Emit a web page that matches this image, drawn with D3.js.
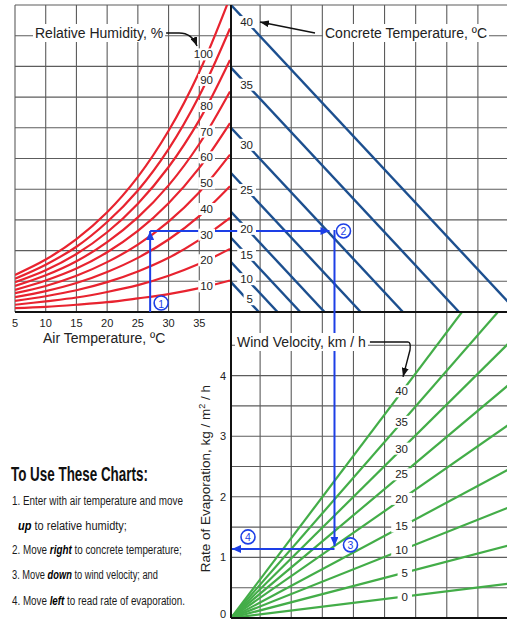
<!DOCTYPE html>
<html><head><meta charset="utf-8">
<script src="https://cdn.jsdelivr.net/npm/d3@7"></script>
<style>
body{margin:0;background:#fff}
svg{display:block}
text{font-family:"Liberation Sans",Arial,Helvetica,sans-serif}
.narrow{font-family:"Liberation Sans Narrow","Arial Narrow","Liberation Sans",sans-serif}
</style>
</head><body>
<script>
// ---------------- data ----------------
const airTemps = [5, 10, 15, 20, 25, 30, 35, 40];          // °C
const airTempTicks = [5, 10, 15, 20, 25, 30, 35];
const rhLevels = [100, 90, 80, 70, 60, 50, 40, 30, 20, 10];  // %
// vapour pressure (kPa) of each relative-humidity curve at airTemps
const vaporByRH = [
  [0.87, 1.23, 1.71, 2.34, 3.17, 4.25, 5.63, 7.38],
  [0.78, 1.11, 1.53, 2.11, 2.85, 3.82, 5.07, 6.65],
  [0.70, 0.98, 1.36, 1.87, 2.54, 3.40, 4.50, 5.91],
  [0.61, 0.86, 1.19, 1.64, 2.22, 2.97, 3.94, 5.17],
  [0.52, 0.74, 1.02, 1.40, 1.90, 2.55, 3.38, 4.43],
  [0.44, 0.61, 0.85, 1.17, 1.58, 2.12, 2.81, 3.69],
  [0.35, 0.49, 0.68, 0.94, 1.27, 1.70, 2.25, 2.95],
  [0.26, 0.37, 0.51, 0.70, 0.95, 1.27, 1.69, 2.21],
  [0.17, 0.25, 0.34, 0.47, 0.63, 0.85, 1.13, 1.48],
  [0.09, 0.12, 0.17, 0.23, 0.32, 0.42, 0.56, 0.74]
];
const concreteTemps = [40, 35, 30, 25, 20, 15, 10, 5];       // °C
const concreteVapor = [7.2, 5.73, 4.32, 3.26, 2.35, 1.74, 1.17, 0.70]; // kPa
const windSpeeds = [40, 35, 30, 25, 20, 15, 10, 5, 0];        // km/h
const evapAtDiff7 = [6.09, 5.27, 4.55, 3.86, 3.20, 2.46, 1.83, 1.20, 0.57]; // kg/m²/h at 7 kPa
const evapTicks = [0, 1, 2, 3, 4];
const exampleAirTemp = 27, exampleVapor = 1.90, exampleDiff = 2.55, exampleEvap = 1.14;
const instructions = [
  ["1. Enter with air temperature and move"],
  ["", "up", " to relative humidty;"],
  ["2. Move ", "right", " to concrete temperature;"],
  ["3. Move ", "down", " to wind velocity; and"],
  ["4. Move ", "left", " to read rate of evaporation."]
];

// ---------------- layout ----------------
const W = 507, H = 622;
const L = 15, T = 5, MID = 312, DIV = 231, B = 618, R = 512;
const RED = "#e8232f", NAVY = "#1c4f8f", GREEN = "#43ad48", PATH = "#1d3fe6", GRID = "#5c5c5c";

const xT = d3.scaleLinear().domain([5, 40]).range([L, 230]);
const yV = d3.scaleLinear().domain([0, 7.2]).range([MID, T]);
const xD = d3.scaleLinear().domain([0, 7]).range([DIV, DIV + 7 * 39.8]);
const yE = d3.scaleLinear().domain([0, 5]).range([B, 315]);
const gridCol = d3.scaleLinear().domain([0, 9]).range([229, 509]);

const svg = d3.select("body").append("svg").attr("width", W).attr("height", H);
const defs = svg.append("defs");
function clip(id, x, y, w, h) {
  defs.append("clipPath").attr("id", id).append("rect").attr("x", x).attr("y", y).attr("width", w).attr("height", h);
}
clip("cTL", L, T, DIV - L, MID - T);
clip("cTR", DIV, T, R - DIV, MID - T);
clip("cB", DIV, MID, R - DIV, B - MID);
function marker(id, color, len, wid) {
  defs.append("marker").attr("id", id).attr("markerUnits", "userSpaceOnUse")
    .attr("viewBox", `0 ${-wid / 2} ${len} ${wid}`).attr("refX", len).attr("refY", 0)
    .attr("markerWidth", len).attr("markerHeight", wid).attr("orient", "auto")
    .append("path").attr("d", `M0,${-wid / 2}L${len},0L0,${wid / 2}Z`).attr("fill", color);
}
marker("aBlue", PATH, 9, 8);
marker("aBlack", "#111", 9, 7);

// ---------------- grid ----------------
const grid = svg.append("g").attr("stroke", GRID).attr("stroke-width", 1.1);
airTemps.slice(1, -1).forEach(t => grid.append("line").attr("x1", xT(t)).attr("x2", xT(t)).attr("y1", T).attr("y2", MID));
d3.range(1, 10).forEach(k => grid.append("line").attr("x1", L).attr("x2", W).attr("y1", yV(k * 0.72)).attr("y2", yV(k * 0.72)));
d3.range(1, 9).forEach(k => grid.append("line").attr("x1", gridCol(k)).attr("x2", gridCol(k)).attr("y1", T).attr("y2", B));
d3.range(0.5, 4.6, 0.5).forEach(e => grid.append("line").attr("x1", DIV).attr("x2", W).attr("y1", yE(e)).attr("y2", yE(e)));
grid.append("line").attr("x1", L).attr("x2", W).attr("y1", T).attr("y2", T);
grid.append("line").attr("x1", L).attr("x2", L).attr("y1", T).attr("y2", MID);

// ---------------- relative humidity curves ----------------
const gRed = svg.append("g").attr("clip-path", "url(#cTL)");
const lineRH = d3.line().x((d, i) => xT(airTemps[i])).y(d => yV(d)).curve(d3.curveCatmullRom);
const redPaths = vaporByRH.map(vals =>
  gRed.append("path").attr("d", lineRH(vals)).attr("fill", "none").attr("stroke", RED).attr("stroke-width", 2.2).node());

// ---------------- concrete temperature lines ----------------
const gBlue = svg.append("g").attr("clip-path", "url(#cTR)");
concreteVapor.forEach(v => gBlue.append("line")
  .attr("x1", xD(0)).attr("y1", yV(v)).attr("x2", xD(v)).attr("y2", yV(0))
  .attr("stroke", NAVY).attr("stroke-width", 2.4));

// ---------------- wind velocity lines ----------------
const gGreen = svg.append("g").attr("clip-path", "url(#cB)");
evapAtDiff7.forEach(e => gGreen.append("line")
  .attr("x1", xD(0)).attr("y1", yE(0)).attr("x2", xD(7)).attr("y2", yE(e))
  .attr("stroke", GREEN).attr("stroke-width", 2.2));

// ---------------- frame ----------------
const frame = svg.append("g").attr("stroke", "#111").attr("stroke-width", 2);
frame.append("line").attr("x1", L).attr("x2", W).attr("y1", MID).attr("y2", MID);
frame.append("line").attr("x1", DIV).attr("x2", DIV).attr("y1", T).attr("y2", B);
frame.append("line").attr("x1", DIV).attr("x2", W).attr("y1", B).attr("y2", B);

// ---------------- example path ----------------
const gPath = svg.append("g").attr("stroke", PATH).attr("stroke-width", 2).attr("fill", "none");
gPath.append("line").attr("x1", xT(exampleAirTemp)).attr("x2", xT(exampleAirTemp))
  .attr("y1", MID).attr("y2", yV(exampleVapor)).attr("marker-end", "url(#aBlue)");
gPath.append("path").attr("d", `M${xT(exampleAirTemp)},${yV(exampleVapor)}H${xD(exampleDiff) - 3}`).attr("marker-end", "url(#aBlue)");
gPath.append("line").attr("x1", xD(exampleDiff) + 2).attr("x2", xD(exampleDiff) + 2)
  .attr("y1", yV(exampleVapor) - 1).attr("y2", yE(exampleEvap) - 3).attr("marker-end", "url(#aBlue)");
gPath.append("line").attr("x1", xD(exampleDiff) + 2).attr("x2", xD(0) + 1)
  .attr("y1", yE(exampleEvap)).attr("y2", yE(exampleEvap)).attr("marker-end", "url(#aBlue)");

// ---------------- boxed labels ----------------
function boxed(x, y, txt, anchor, size, color, padX, padY) {
  const g = svg.append("g");
  const r = g.append("rect").attr("fill", "#fff");
  const t = g.append("text").attr("x", x).attr("y", y).attr("text-anchor", anchor)
    .attr("dominant-baseline", "central").attr("font-size", size).attr("fill", color).text(txt);
  const bb = t.node().getBBox();
  r.attr("x", bb.x - padX).attr("y", bb.y - padY).attr("width", bb.width + 2 * padX).attr("height", bb.height + 2 * padY);
  return { g, t, bb };
}
function yAtX(node, x) {
  let lo = 0, hi = node.getTotalLength();
  for (let i = 0; i < 40; i++) {
    const mid = (lo + hi) / 2;
    if (node.getPointAtLength(mid).x < x) lo = mid; else hi = mid;
  }
  return node.getPointAtLength(lo).y;
}
rhLevels.forEach((rh, i) => boxed(213, yAtX(redPaths[i], 207), String(rh), "end", 11.5, "#222", 2, 0));
concreteTemps.forEach((t, i) => boxed(253, yV(concreteVapor[i] - 0.40), String(t), "end", 11.5, "#222", 3, 0));
windSpeeds.forEach((w, i) => boxed(408, yE(evapAtDiff7[i] * 4.3 / 7), String(w), "end", 11.5, "#222", 4, 0));

// ---------------- step markers ----------------
function step(cx, cy, n) {
  svg.append("circle").attr("cx", cx).attr("cy", cy).attr("r", 7).attr("fill", "#fff").attr("stroke", PATH).attr("stroke-width", 1.6);
  svg.append("text").attr("x", cx).attr("y", cy + 0.5).attr("text-anchor", "middle").attr("dominant-baseline", "central")
    .attr("font-size", 10.5).attr("fill", PATH).text(n);
}
step(xT(exampleAirTemp) + 11, MID - 9, "1");
step(xD(exampleDiff) + 11, yV(exampleVapor), "2");
step(xD(exampleDiff) + 18, yE(exampleEvap) - 4, "3");
step(xD(0) + 17, yE(exampleEvap) - 12, "4");

// ---------------- axis ticks ----------------
airTempTicks.forEach(t => svg.append("text").attr("x", xT(t)).attr("y", MID + 11).attr("text-anchor", "middle")
  .attr("dominant-baseline", "central").attr("font-size", 11).attr("fill", "#222").text(t));
evapTicks.forEach(e => svg.append("text").attr("x", 226).attr("y", Math.min(yE(e), 614)).attr("text-anchor", "end")
  .attr("dominant-baseline", "central").attr("font-size", 11).attr("fill", "#222").text(e));

// ---------------- titles ----------------
const rhT = boxed(35, 33, "Relative Humidity, %", "start", 14, "#222", 2, 1);
const ctT = boxed(325, 33, "Concrete Temperature, ºC", "start", 14, "#222", 2, 1);
const wvT = boxed(237, 342, "Wind Velocity, km / h", "start", 14, "#222", 2, 1);
svg.append("text").attr("x", 43).attr("y", 338).attr("dominant-baseline", "central").attr("font-size", 14).attr("fill", "#222").text("Air Temperature, ºC");
const yl = svg.append("text").attr("transform", `translate(210,${yE(2.3)}) rotate(-90)`).attr("text-anchor", "middle")
  .attr("font-size", 13.5).attr("fill", "#222");
yl.append("tspan").text("Rate of Evaporation, kg / m");
yl.append("tspan").attr("dy", -5).attr("font-size", 9).text("2");
yl.append("tspan").attr("dy", 5).text(" / h");

// leader arrows
const lead = svg.append("g").attr("stroke", "#111").attr("stroke-width", 1.4).attr("fill", "none");
const rb = rhT.bb;
lead.append("path").attr("d", `M${rb.x + rb.width + 3},${33}H${rb.x + rb.width + 16}Q${192},33 ${197},${46}`).attr("marker-end", "url(#aBlack)");
const cb = ctT.bb;
lead.append("path").attr("d", `M${cb.x - 10},${33}L${xD(0) + 29},${yV(6.8)}`).attr("marker-end", "url(#aBlack)");
const wb = wvT.bb;
lead.append("path").attr("d", `M${wb.x + wb.width + 4},342H408Q411,342 410,350L403,${yE(3.98)}`).attr("marker-end", "url(#aBlack)");

// ---------------- instructions ----------------
function fitText(x, y, target, size, weight, parts) {
  const t = svg.append("text").attr("class", "narrow").attr("font-size", size).attr("fill", "#1a1a1a");
  if (weight) t.attr("font-weight", weight).attr("fill", "#111");
  parts.forEach((p, j) => {
    if (!p) return;
    const s = t.append("tspan").text(p);
    if (j === 1) s.attr("font-weight", "bold").attr("font-style", "italic").attr("fill", "#000");
  });
  const w = t.node().getComputedTextLength();
  t.attr("transform", `translate(${x},${y}) scale(${target / w},1)`);
}
fitText(11, 481, 137, 20, "bold", ["To Use These Charts:"]);
const instrX = [12, 18, 12, 12, 12];
const instrY = [505, 530, 554, 579, 605];
const instrLen = [171, 109, 170, 146, 173];
instructions.forEach((parts, i) => fitText(instrX[i], instrY[i], instrLen[i], 13.5, null, parts));
</script>
</body></html>
